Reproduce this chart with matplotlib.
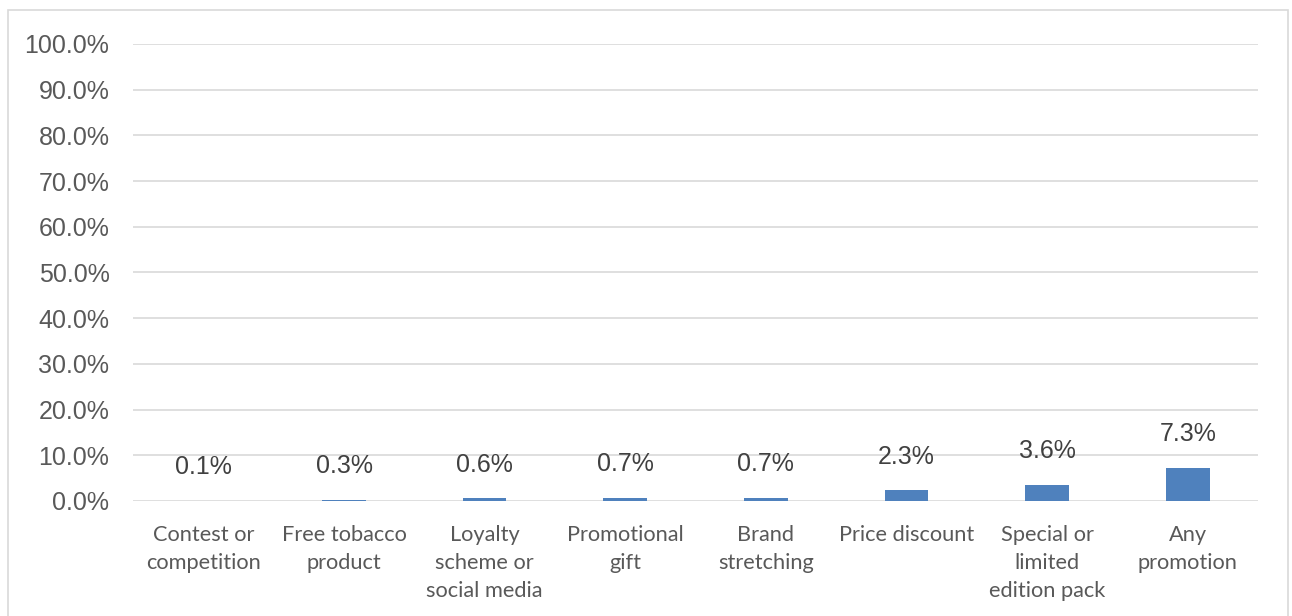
import matplotlib.pyplot as plt
from matplotlib.patches import Rectangle
from matplotlib.ticker import PercentFormatter

categories = ["Contest or\ncompetition", "Free tobacco\nproduct", "Loyalty\nscheme or\nsocial media",
              "Promotional\ngift", "Brand\nstretching", "Price discount",
              "Special or\nlimited\nedition pack", "Any\npromotion"]
values = [0.1, 0.3, 0.6, 0.7, 0.7, 2.3, 3.6, 7.3]

fig = plt.figure(figsize=(12.92, 6.16), dpi=100)
ax = fig.add_axes([0.103, 0.1867, 0.8707, 0.7419])

# outer chart border
fig.patches.append(Rectangle((8 / 1292, -0.1), 1280 / 1292, 1.1 - 10 / 616,
                             transform=fig.transFigure, fill=False,
                             edgecolor="#d9d9d9", linewidth=1.2))

x = range(len(categories))
ax.bar(x, values, width=0.31, color="#4f81bd", zorder=3)
for i, v in enumerate(values):
    ax.annotate("%.1f%%" % v, (i, v), xytext=(0, 24), textcoords="offset points",
                ha="center", va="center", fontsize=18, color="#404040",
                family="Liberation Sans")

ax.set_xlim(-0.5, len(categories) - 0.5)
ax.set_ylim(0, 100)
ax.set_yticks(range(0, 101, 10))
ax.yaxis.set_major_formatter(PercentFormatter(decimals=1))
ax.grid(axis="y", color="#d9d9d9", linewidth=1.2, zorder=0)
for s in ax.spines.values():
    s.set_visible(False)
ax.tick_params(axis="y", length=0, pad=17, labelsize=18, labelcolor="#595959")
ax.tick_params(axis="x", length=0, pad=17, labelsize=15.7, labelcolor="#595959")
for lab in ax.get_yticklabels():
    lab.set_family("Liberation Sans")
ax.set_xticks(list(x))
ax.set_xticklabels(categories, family="Lato", linespacing=1.5, va="top")

fig.savefig("out.png", dpi=100)
